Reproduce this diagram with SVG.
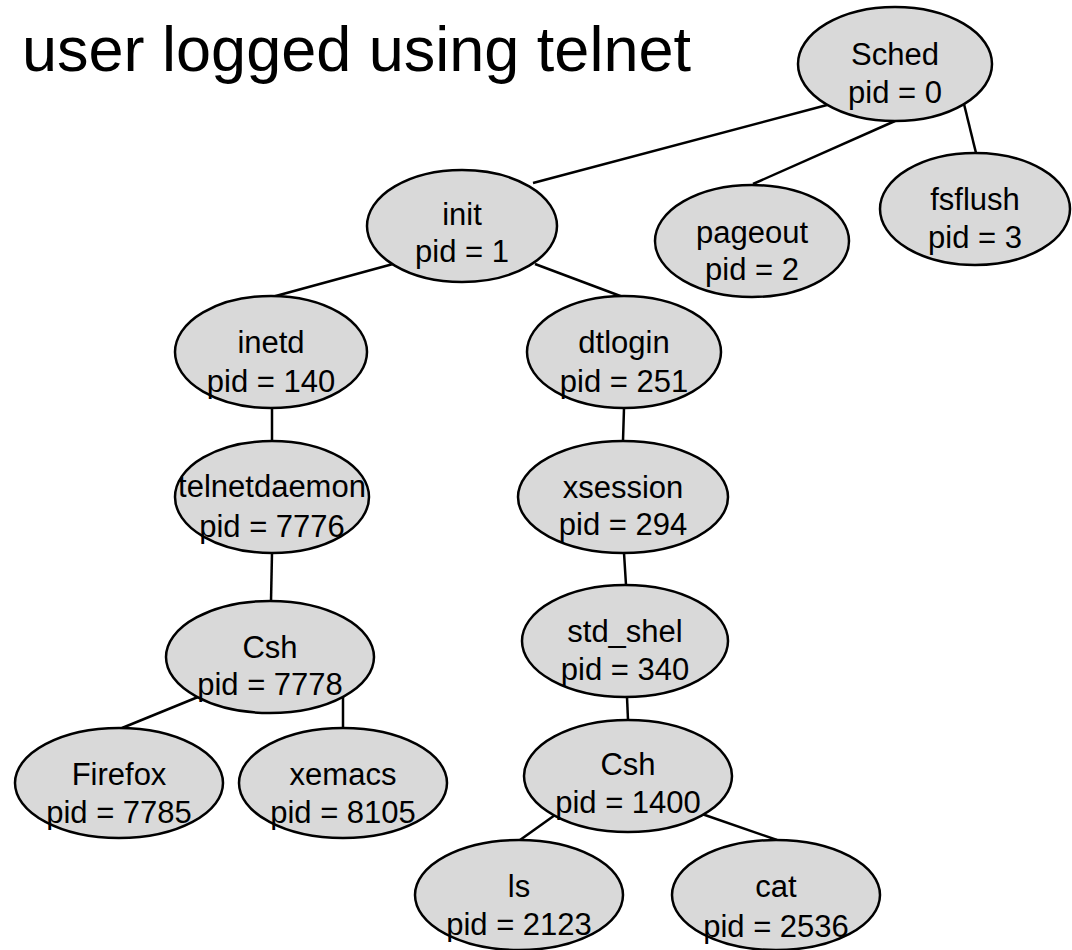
<svg xmlns="http://www.w3.org/2000/svg" width="1072" height="950" viewBox="0 0 1072 950">
<style>
.bg{fill:#ffffff}
.n ellipse{fill:#d9d9d9;stroke:#000;stroke-width:2.5}
.n text{font-family:"Liberation Sans",Arial,sans-serif;font-size:31px;fill:#000;text-anchor:middle}
.e line{stroke:#000;stroke-width:2.5}
.title{font-family:"Liberation Sans",Arial,sans-serif;font-size:63px;fill:#000}
</style>
<rect class="bg" x="0" y="0" width="1072" height="950"/>
<text class="title" x="22" y="71">user logged using telnet</text>
<g id="connectors" class="e">
<line x1="827" y1="105" x2="533" y2="183"/>
<line x1="895" y1="121" x2="753" y2="184"/>
<line x1="964" y1="104" x2="976" y2="153"/>
<line x1="393" y1="264" x2="272" y2="297"/>
<line x1="535" y1="264" x2="623" y2="297"/>
<line x1="272" y1="408" x2="272" y2="442"/>
<line x1="272" y1="553" x2="271" y2="601"/>
<line x1="198" y1="697" x2="122" y2="728"/>
<line x1="343" y1="697" x2="343" y2="728"/>
<line x1="624" y1="408" x2="623" y2="441"/>
<line x1="624" y1="553" x2="626" y2="585"/>
<line x1="627" y1="697" x2="628" y2="720"/>
<line x1="555" y1="815" x2="520" y2="840"/>
<line x1="702" y1="814" x2="777" y2="840"/>
</g>
<g id="sched" class="n"><ellipse cx="895" cy="64" rx="97" ry="57"/><text x="895" y="65">Sched</text><text x="895" y="103">pid = 0</text></g>
<g id="init" class="n"><ellipse cx="462" cy="226" rx="95" ry="56"/><text x="462" y="225">init</text><text x="462" y="262">pid = 1</text></g>
<g id="pageout" class="n"><ellipse cx="752" cy="241" rx="97" ry="56"/><text x="752" y="243">pageout</text><text x="752" y="280">pid = 2</text></g>
<g id="fsflush" class="n"><ellipse cx="975" cy="209" rx="95" ry="56"/><text x="975" y="210">fsflush</text><text x="975" y="248">pid = 3</text></g>
<g id="inetd" class="n"><ellipse cx="271" cy="352" rx="96" ry="56"/><text x="271" y="353">inetd</text><text x="271" y="392">pid = 140</text></g>
<g id="telnetdaemon" class="n"><ellipse cx="272" cy="497" rx="97" ry="56"/><text x="272" y="497">telnetdaemon</text><text x="272" y="537">pid = 7776</text></g>
<g id="csh7778" class="n"><ellipse cx="270" cy="657" rx="104" ry="56"/><text x="270" y="658">Csh</text><text x="270" y="695">pid = 7778</text></g>
<g id="firefox" class="n"><ellipse cx="119" cy="783" rx="104" ry="55"/><text x="119" y="785">Firefox</text><text x="119" y="823">pid = 7785</text></g>
<g id="xemacs" class="n"><ellipse cx="343" cy="783" rx="104" ry="55"/><text x="343" y="785">xemacs</text><text x="343" y="823">pid = 8105</text></g>
<g id="dtlogin" class="n"><ellipse cx="624" cy="352" rx="97" ry="56"/><text x="624" y="353">dtlogin</text><text x="624" y="392">pid = 251</text></g>
<g id="xsession" class="n"><ellipse cx="623" cy="497" rx="105" ry="56"/><text x="623" y="498">xsession</text><text x="623" y="535">pid = 294</text></g>
<g id="std_shel" class="n"><ellipse cx="625" cy="641" rx="103" ry="56"/><text x="625" y="642">std_shel</text><text x="625" y="680">pid = 340</text></g>
<g id="csh1400" class="n"><ellipse cx="628" cy="776" rx="104" ry="56"/><text x="628" y="775">Csh</text><text x="628" y="813">pid = 1400</text></g>
<g id="ls" class="n"><ellipse cx="519" cy="895" rx="104" ry="55"/><text x="519" y="897">ls</text><text x="519" y="935">pid = 2123</text></g>
<g id="cat" class="n"><ellipse cx="776" cy="895" rx="104" ry="55"/><text x="776" y="897">cat</text><text x="776" y="937">pid = 2536</text></g>
</svg>
